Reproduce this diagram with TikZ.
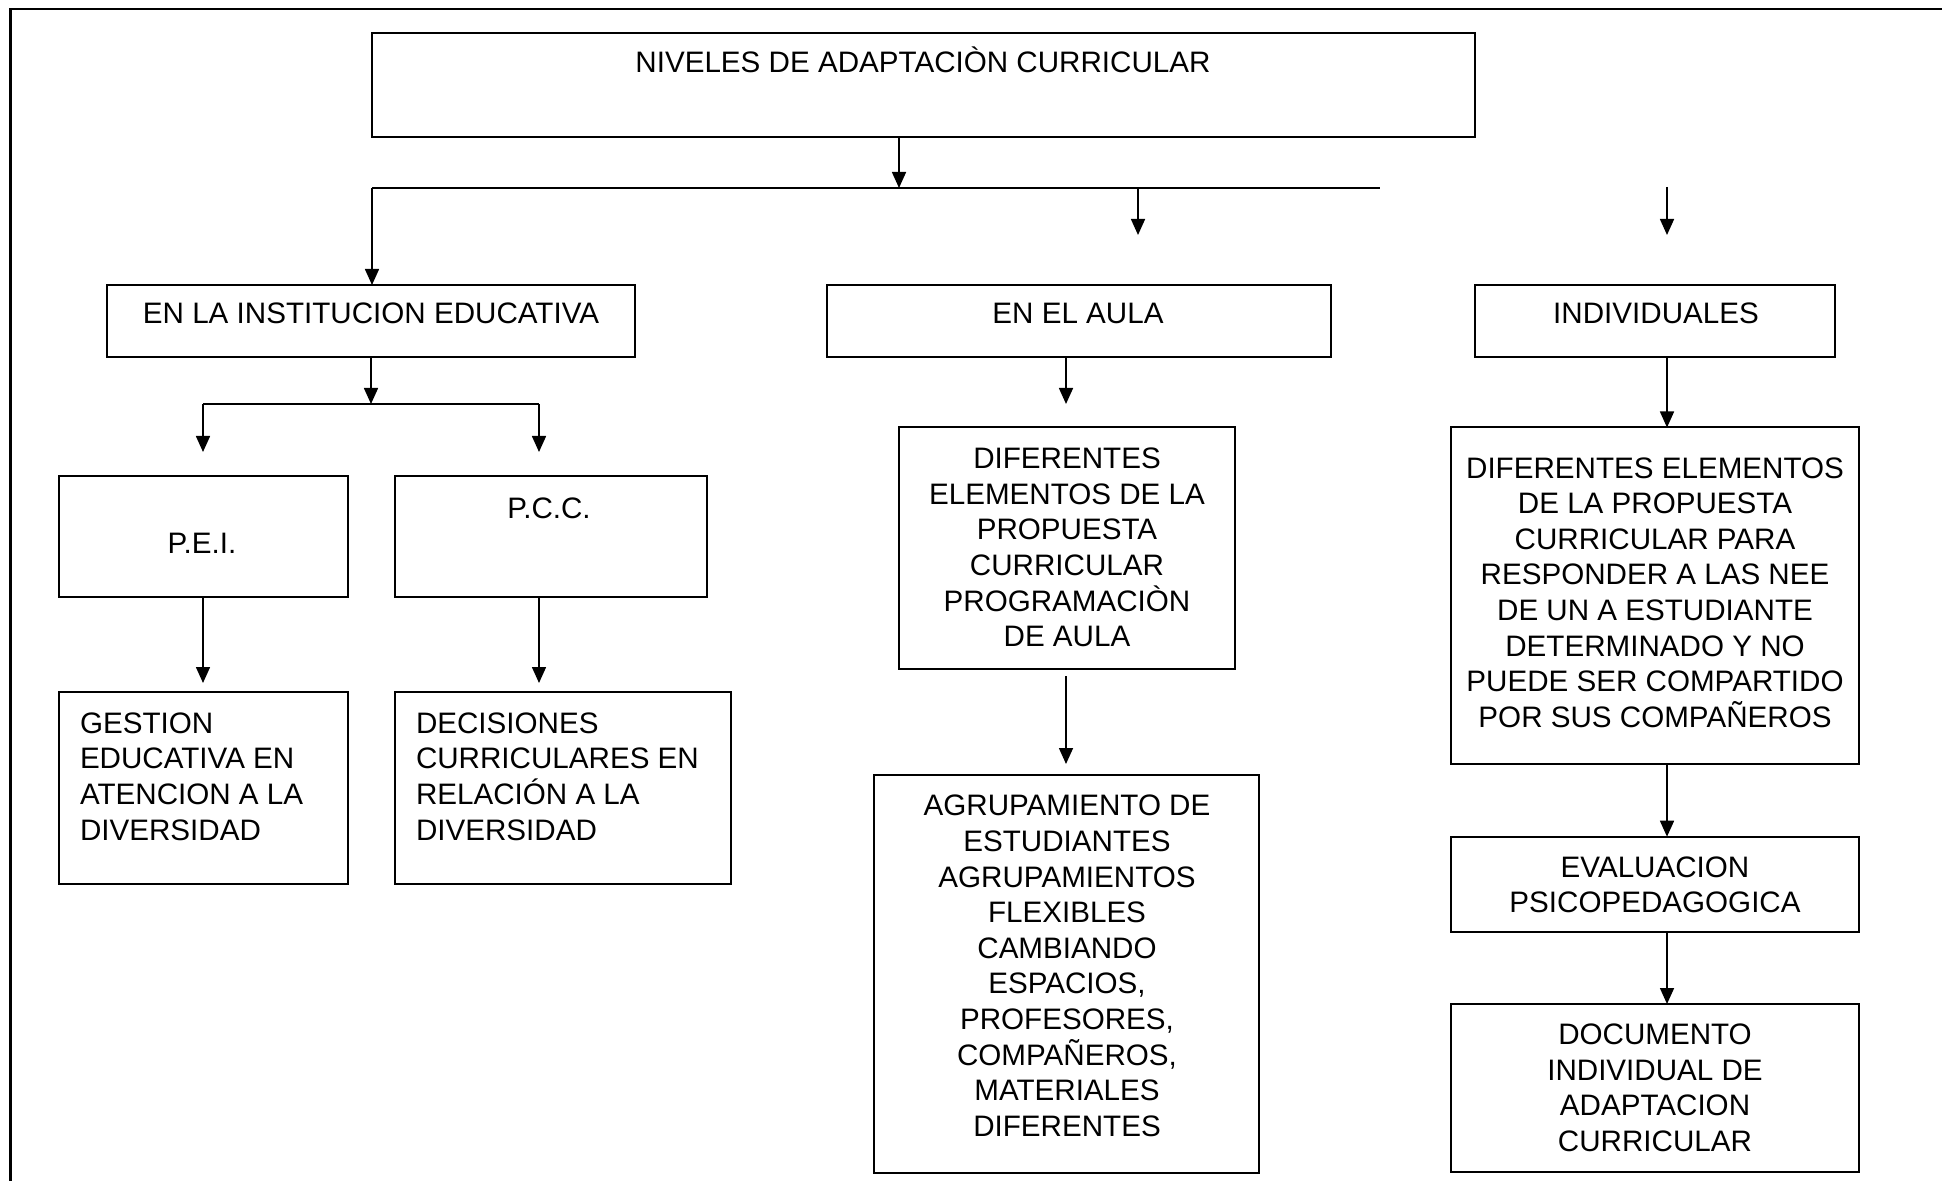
\documentclass[tikz,border=0pt]{standalone}
\usepackage{fontspec}
\setmainfont{Liberation Sans}
\usetikzlibrary{arrows.meta}

\begin{document}
\begin{tikzpicture}[x=0.5pt,y=-0.5pt,
  frame/.style={line width=1.25pt,draw=black},
  box/.style={draw=black,line width=1pt,inner sep=0pt,outer sep=0pt,fill=white},
  txt/.style={inner sep=0pt,outer sep=0pt,align=center,font=\fontsize{14.8}{17.8}\selectfont},
  conn/.style={draw=black,line width=0.8pt},
  arr/.style={conn,-{Triangle[length=8pt,width=7pt]}}
]
\useasboundingbox (0,0) rectangle (1942,1181);

% outer frame (open at right and bottom)
\draw[frame] (10.5,1181) -- (10.5,9) -- (1942,9);

% ---------- boxes ----------
\node[box,minimum width=551.5pt,minimum height=52pt] (title) at (923.5,85) {};
\node[box,minimum width=264pt,minimum height=36pt] (inst) at (371,321) {};
\node[box,minimum width=252pt,minimum height=36pt] (aula) at (1079,321) {};
\node[box,minimum width=180pt,minimum height=36pt] (indiv) at (1655,321) {};

\node[box,minimum width=144.5pt,minimum height=60.5pt] (pei) at (203.5,536.5) {};
\node[box,minimum width=156pt,minimum height=60.5pt] (pcc) at (551,536.5) {};
\node[box,minimum width=144.5pt,minimum height=96pt] (gestion) at (203.5,788) {};
\node[box,minimum width=168pt,minimum height=96pt] (decis) at (563,788) {};

\node[box,minimum width=168pt,minimum height=120.75pt] (auladif) at (1067,548.25) {};
\node[box,minimum width=192.5pt,minimum height=199pt] (agrup) at (1066.5,974) {};

\node[box,minimum width=204pt,minimum height=168.25pt] (inddif) at (1655,595.75) {};
\node[box,minimum width=204pt,minimum height=47.65pt] (eval) at (1655,884.35) {};
\node[box,minimum width=204pt,minimum height=84pt] (doc) at (1655,1088) {};

% ---------- texts ----------
\node[txt,anchor=base] (t-title) at (923,73) {NIVELES DE ADAPTACIÒN CURRICULAR};
\node[txt,anchor=base] (t-inst) at (371,323.6) {EN LA INSTITUCION EDUCATIVA};
\node[txt,anchor=base] (t-aula) at (1078,323.6) {EN EL AULA};
\node[txt,anchor=base] (t-indiv) at (1656,323.6) {INDIVIDUALES};
\node[txt,anchor=base] (t-pei) at (202,553.5) {P.E.I.};
\node[txt,anchor=base] (t-pcc) at (549,518) {P.C.C.};

\node[txt,align=left,anchor=west] (t-gestion) at (80,776.5)
  {GESTION\\EDUCATIVA EN\\ATENCION A LA\\DIVERSIDAD};
\node[txt,align=left,anchor=west] (t-decis) at (416,776.5)
  {DECISIONES\\CURRICULARES EN\\RELACIÓN A LA\\DIVERSIDAD};

\node[txt] (t-auladif) at (1067,547.5)
  {DIFERENTES\\ELEMENTOS DE LA\\PROPUESTA\\CURRICULAR\\PROGRAMACIÒN\\DE AULA};
\node[txt] (t-agrup) at (1067,966)
  {AGRUPAMIENTO DE\\ESTUDIANTES\\AGRUPAMIENTOS\\FLEXIBLES\\CAMBIANDO\\ESPACIOS,\\PROFESORES,\\COMPAÑEROS,\\MATERIALES\\DIFERENTES};

\node[txt] (t-inddif) at (1655,592.5)
  {DIFERENTES ELEMENTOS\\DE LA PROPUESTA\\CURRICULAR PARA\\RESPONDER A LAS NEE\\DE UN A ESTUDIANTE\\DETERMINADO Y NO\\PUEDE SER COMPARTIDO\\POR SUS COMPAÑEROS};
\node[txt] (t-eval) at (1655,885) {EVALUACION\\PSICOPEDAGOGICA};
\node[txt] (t-doc) at (1655,1088) {DOCUMENTO\\INDIVIDUAL DE\\ADAPTACION\\CURRICULAR};

% ---------- connectors ----------
% top level distribution bar
\coordinate (busL) at (372,188);
\coordinate (busJ) at (899,188);
\coordinate (busR) at (1380,188);
\draw[arr] (title.south -| busJ) -- (busJ);
\draw[conn] (busL) -- (busR);
\draw[arr] (busL) -- (inst.north -| busL);

\coordinate (midTop) at (1138,188);
\coordinate (midTip) at (1138,235);
\draw[arr] (midTop) -- (midTip);

\coordinate (rgtTop) at (1667,187);
\coordinate (rgtTip) at (1667,235);
\draw[arr] (rgtTop) -- (rgtTip);

% institution branch
\coordinate (subJ) at (371,404);
\coordinate (subL) at (203,404);
\coordinate (subR) at (539,404);
\draw[arr] (inst.south) -- (subJ);
\draw[conn] (subL) -- (subR);
\coordinate (peiTip) at (203,452);
\coordinate (pccTip) at (539,452);
\draw[arr] (subL) -- (peiTip);
\draw[arr] (subR) -- (pccTip);
\coordinate (gesTip) at (203,683);
\coordinate (decTip) at (539,683);
\draw[arr] (pei.south -| gesTip) -- (gesTip);
\draw[arr] (pcc.south -| decTip) -- (decTip);

% classroom branch
\coordinate (aulaTip) at (1066,404);
\draw[arr] (aula.south -| aulaTip) -- (aulaTip);
\coordinate (difTop) at (1066,676);
\coordinate (difTip) at (1066,764);
\draw[arr] (difTop) -- (difTip);

% individual branch
\coordinate (colR) at (1667,0);
\draw[arr] (indiv.south -| colR) -- (inddif.north -| colR);
\draw[arr] (inddif.south -| colR) -- (eval.north -| colR);
\draw[arr] (eval.south -| colR) -- (doc.north -| colR);
\end{tikzpicture}
\end{document}
